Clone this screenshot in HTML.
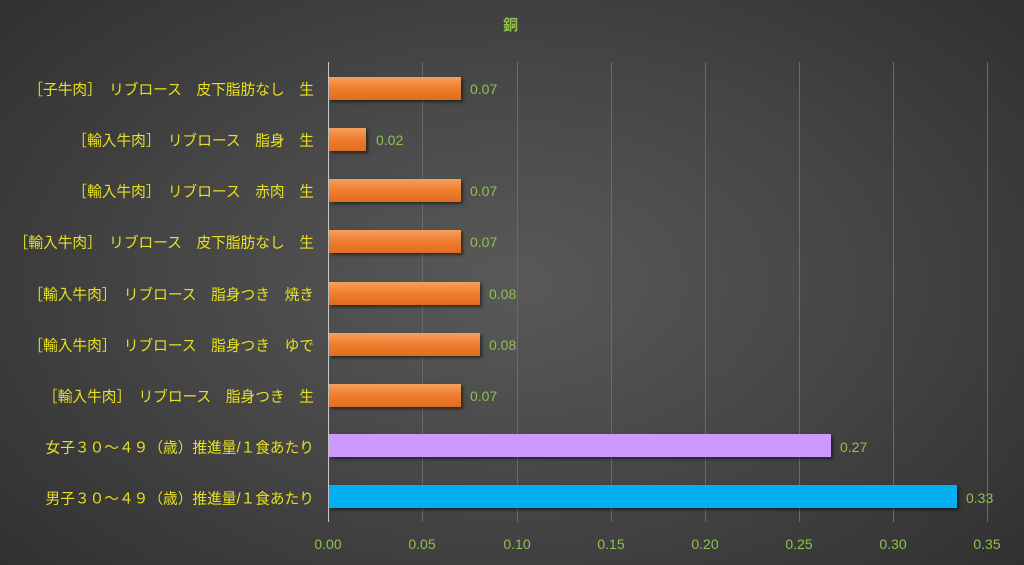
<!DOCTYPE html>
<html><head><meta charset="utf-8"><style>
html,body{margin:0;padding:0}
body{width:1024px;height:565px;overflow:hidden;position:relative;
background:radial-gradient(ellipse 70% 80% at 50% 50%,#595959 0%,#474747 45%,#2e2e2e 100%);
font-family:"Liberation Sans","Noto Sans CJK JP",sans-serif;}
.t{position:absolute;white-space:nowrap}
.lab{color:#e8e020;font-size:14.7px;right:710px;transform:translateY(-50%)}
.val{color:#8fc050;font-size:14px;transform:translateY(-50%)}
.tick{color:#8fc050;font-size:14px;top:536px;transform:translateX(-50%)}
.grid{position:absolute;top:62px;height:460px;width:1px;background:#6a6a6a}
.bar{position:absolute;left:329px;height:23px;box-shadow:2px 2px 3px rgba(0,0,0,0.5)}
.o{background:linear-gradient(#f5a060,#f08030 45%,#e06c20)}
</style></head><body>
<div class="t" style="left:503px;top:14px;color:#8fc050;font-size:15px;font-weight:bold">銅</div>
<div class="grid" style="left:422px"></div><div class="grid" style="left:517px"></div>
<div class="grid" style="left:611px"></div><div class="grid" style="left:705px"></div>
<div class="grid" style="left:799px"></div><div class="grid" style="left:893px"></div>
<div class="grid" style="left:987px"></div>
<div class="grid" style="left:328px;background:#c8c8c8"></div>

<div class="bar o" style="top:77px;width:132px"></div>
<div class="bar o" style="top:128px;width:37px"></div>
<div class="bar o" style="top:179px;width:132px"></div>
<div class="bar o" style="top:230px;width:132px"></div>
<div class="bar o" style="top:282px;width:151px"></div>
<div class="bar o" style="top:333px;width:151px"></div>
<div class="bar o" style="top:384px;width:132px"></div>
<div class="bar" style="top:434px;width:502px;background:#cc99ff"></div>
<div class="bar" style="top:485px;width:628px;background:#00b0f0"></div>

<div class="t lab" style="top:89px">［子牛肉］　リブロース　皮下脂肪なし　生</div>
<div class="t lab" style="top:140px">［輸入牛肉］　リブロース　脂身　生</div>
<div class="t lab" style="top:191px">［輸入牛肉］　リブロース　赤肉　生</div>
<div class="t lab" style="top:242px">［輸入牛肉］　リブロース　皮下脂肪なし　生</div>
<div class="t lab" style="top:294px">［輸入牛肉］　リブロース　脂身つき　焼き</div>
<div class="t lab" style="top:345px">［輸入牛肉］　リブロース　脂身つき　ゆで</div>
<div class="t lab" style="top:396px">［輸入牛肉］　リブロース　脂身つき　生</div>
<div class="t lab" style="top:447px">女子３０～４９（歳）推進量/１食あたり</div>
<div class="t lab" style="top:498px">男子３０～４９（歳）推進量/１食あたり</div>

<div class="t val" style="left:470px;top:89px">0.07</div>
<div class="t val" style="left:376px;top:140px">0.02</div>
<div class="t val" style="left:470px;top:191px">0.07</div>
<div class="t val" style="left:470px;top:242px">0.07</div>
<div class="t val" style="left:489px;top:294px">0.08</div>
<div class="t val" style="left:489px;top:345px">0.08</div>
<div class="t val" style="left:470px;top:396px">0.07</div>
<div class="t val" style="left:840px;top:447px">0.27</div>
<div class="t val" style="left:966px;top:498px">0.33</div>

<div class="t tick" style="left:328px">0.00</div><div class="t tick" style="left:422px">0.05</div>
<div class="t tick" style="left:517px">0.10</div><div class="t tick" style="left:611px">0.15</div>
<div class="t tick" style="left:705px">0.20</div><div class="t tick" style="left:799px">0.25</div>
<div class="t tick" style="left:893px">0.30</div><div class="t tick" style="left:987px">0.35</div>
</body></html>
